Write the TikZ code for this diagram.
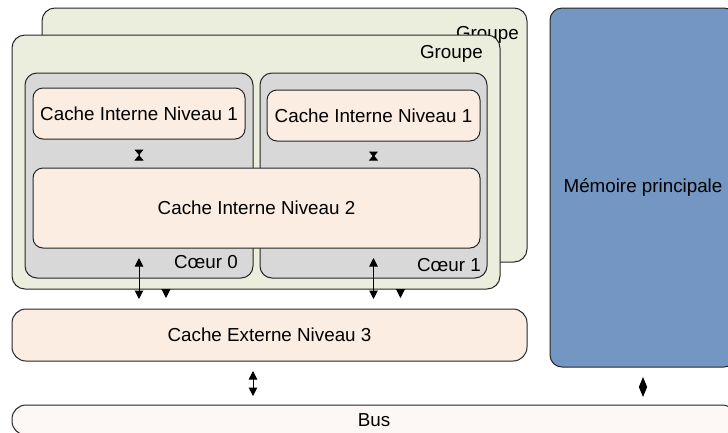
\documentclass[tikz,border=0pt]{standalone}
\usepackage{fontspec}
\setmainfont{Liberation Sans}
\usetikzlibrary{arrows.meta, positioning}

\definecolor{groupfill}{HTML}{EBEEDD}
\definecolor{corefill}{HTML}{D8D8D8}
\definecolor{cachefill}{HTML}{FCEDE3}
\definecolor{memfill}{HTML}{7396C2}
\definecolor{busfill}{HTML}{FDF8F5}

\begin{document}
\begin{tikzpicture}[
			x=1pt, y=-1pt,
			nodes = {
				align = center,
				inner sep = 0pt,
				font = \fontsize{18.8}{22}\selectfont
			},
			box/.style={
				draw=black!85,
				line width=1pt,
				rectangle,
				rounded corners=#1,
				anchor=north west,
				outer sep=0pt
			},
			box/.default=10pt,
			group/.style={
				box=13pt,
				fill=groupfill
			},
			core/.style={
				box=12pt,
				fill=corefill,
				minimum width=228pt,
				minimum height=205pt
			},
			cache/.style={
				box,
				fill=cachefill
			},
			lines/.style={
				line width=1pt,
				>={Triangle[width=8.5pt,length=8.5pt]}
			},
			hourglass/.style={
				line width=1pt,
				{Triangle[reversed,width=9pt,length=5.5pt]}-{Triangle[reversed,width=9pt,length=5.5pt]}
			}
		]
			\useasboundingbox (0,0) rectangle (728,432);

			\node[group, minimum width=485pt, minimum height=254pt] (g1) at (42,8) {};
			\node[anchor=east] (g1name) at (519,35) {Groupe};

			\node[group, minimum width=488pt, minimum height=254pt] (g0) at (12,35) {};
			\node[anchor=east] (g0name) at (483,54) {Groupe};

			\node[core] (c0) at (25,73) {};
			\node[core, minimum width=227pt] (c1) [right=7pt of c0] {};

			\node[cache, minimum width=212pt, minimum height=51pt] (l1a) at (33,88) {Cache Interne Niveau 1};
			\node[cache, minimum width=213pt, minimum height=51pt] (l1b) at (267,90) {Cache Interne Niveau 1};
			\node[cache, minimum width=447pt, minimum height=80pt] (l2) at (33,168) {Cache Interne Niveau 2};

			\node[anchor=east] (c0name) at ([xshift=-15pt,yshift=16pt]c0.south east) {Cœur 0};
			\node[anchor=east] (c1name) at ([xshift=-6pt,yshift=13pt]c1.south east) {Cœur 1};

			\node[cache, box=14pt, minimum width=515pt, minimum height=52pt] (l3) at (12,309) {Cache Externe Niveau 3};
			\node[box=12pt, fill=memfill, minimum width=186pt, minimum height=359pt] (mem) at (550,8) {Mémoire principale};
			\node[box=14pt, fill=busfill, minimum width=724pt, minimum height=30pt] (bus) at (12,405) {Bus};

			\foreach \c in {l1a, l1b} {
				\draw[hourglass, shorten <=10.5pt, shorten >=7.5pt] (\c.south) -- (\c.south |- l2.north);
				\draw[lines, <->, shorten <=10pt, shorten >=10pt] (\c.south |- l2.south) -- (\c.south |- l3.north);
				\draw[lines, -{Triangle[width=9pt,length=9pt]}] ([xshift=27pt]\c.south |- g0.south) -- ++(0,9);
			}

			\draw[lines, <->, shorten <=10pt, shorten >=9pt] ([xshift=-16.5pt]l3.south) -- ([xshift=-16.5pt]l3.south |- bus.north);
			\draw[lines, {Triangle[width=8pt,length=10pt]}-{Triangle[width=8pt,length=10pt]}, shorten <=10pt, shorten >=8pt] (mem.south) -- (mem.south |- bus.north);

		\end{tikzpicture}
\end{document}
